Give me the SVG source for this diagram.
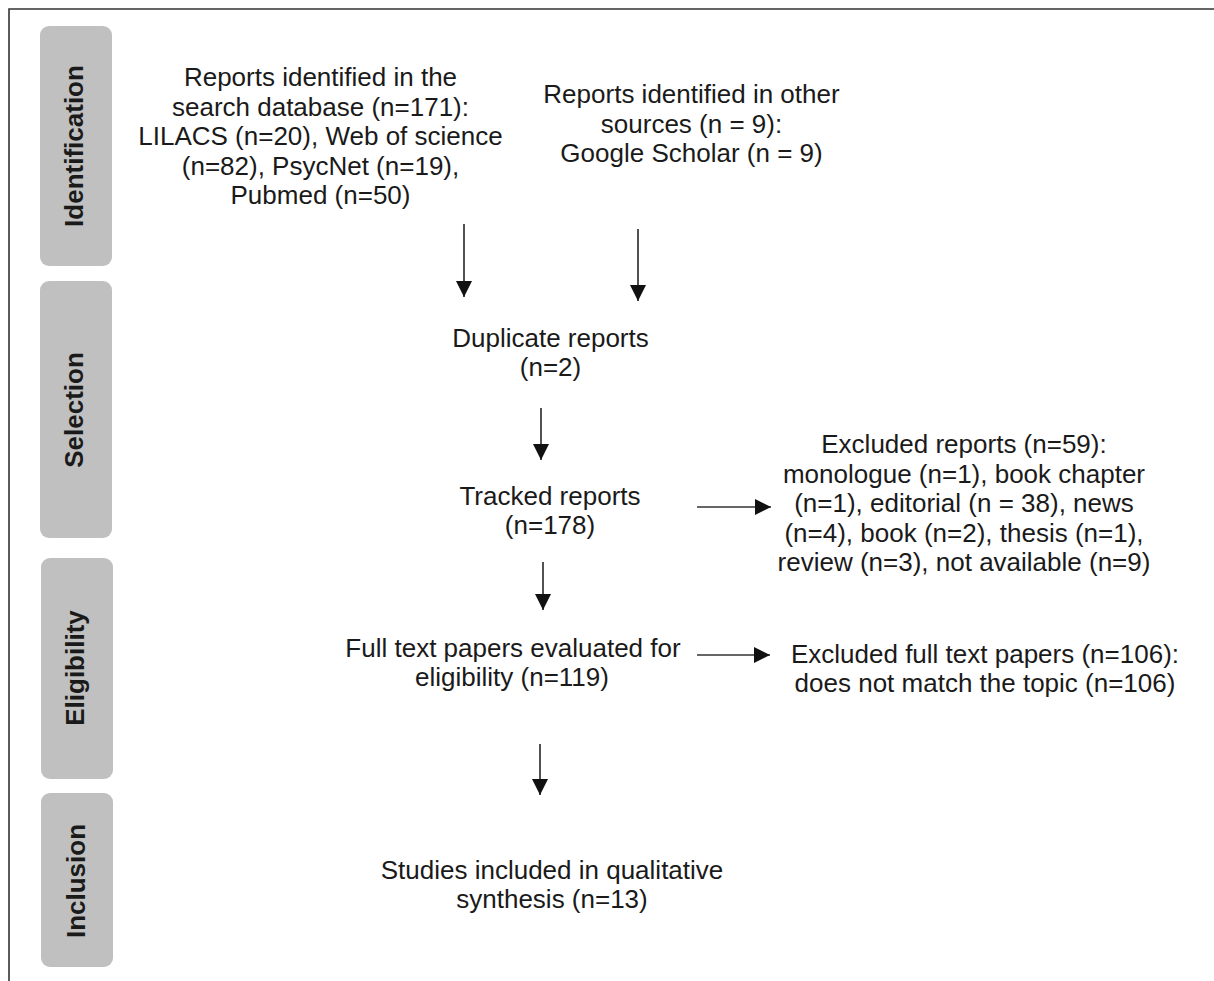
<svg xmlns="http://www.w3.org/2000/svg" width="1214" height="981" viewBox="0 0 1214 981">
<defs>
<style>
.t{font-family:"Liberation Sans",Arial,sans-serif;font-size:26px;fill:#1a1a1a;text-anchor:middle}
.lab{font-family:"Liberation Sans",Arial,sans-serif;font-size:26px;font-weight:bold;fill:#1a1a1a;text-anchor:middle}
.band{fill:#c0c0c0}
.c{stroke:#333;stroke-width:1.7;fill:none;marker-end:url(#ah)}
</style>
<marker id="ah" markerUnits="userSpaceOnUse" markerWidth="17" markerHeight="17" refX="16" refY="8" orient="auto">
<path d="M0,0 L16,8 L0,16 z" fill="#111"/>
</marker>
</defs>
<rect width="1214" height="981" fill="#fff"/>
<path d="M9,981 V9 H1214" stroke="#333" stroke-width="1.6" fill="none"/>

<g id="stage-identification"><rect class="band" x="40" y="26" width="72" height="240" rx="9"/><text class="lab" transform="translate(83,146) rotate(-90)">Identification</text></g>
<g id="stage-selection"><rect class="band" x="40" y="281" width="72" height="257" rx="9"/><text class="lab" transform="translate(83,410) rotate(-90)">Selection</text></g>
<g id="stage-eligibility"><rect class="band" x="41" y="558" width="72" height="221" rx="9"/><text class="lab" transform="translate(84,668) rotate(-90)">Eligibility</text></g>
<g id="stage-inclusion"><rect class="band" x="41" y="793" width="72" height="174" rx="9"/><text class="lab" transform="translate(85,881) rotate(-90)">Inclusion</text></g>

<g id="node-database"><text class="t" x="320.5" y="86">Reports identified in the</text><text class="t" x="320.5" y="115.5">search database (n=171):</text><text class="t" x="320.5" y="145">LILACS (n=20), Web of science</text><text class="t" x="320.5" y="174.5">(n=82), PsycNet (n=19),</text><text class="t" x="320.5" y="204">Pubmed (n=50)</text></g>
<g id="node-other"><text class="t" x="691.5" y="103">Reports identified in other</text><text class="t" x="691.5" y="132.5">sources (n = 9):</text><text class="t" x="691.5" y="162">Google Scholar (n = 9)</text></g>
<g id="node-duplicate"><text class="t" x="550.5" y="347">Duplicate reports</text><text class="t" x="550.5" y="376">(n=2)</text></g>
<g id="node-tracked"><text class="t" x="550" y="505">Tracked reports</text><text class="t" x="550" y="534">(n=178)</text></g>
<g id="node-excluded"><text class="t" x="964" y="453">Excluded reports (n=59):</text><text class="t" x="964" y="482.5">monologue (n=1), book chapter</text><text class="t" x="964" y="512">(n=1), editorial (n = 38), news</text><text class="t" x="964" y="541.5">(n=4), book (n=2), thesis (n=1),</text><text class="t" x="964" y="571">review (n=3), not available (n=9)</text></g>
<g id="node-fulltext"><text class="t" x="513" y="657">Full text papers evaluated for</text><text class="t" x="512" y="686">eligibility (n=119)</text></g>
<g id="node-excluded-full"><text class="t" x="985" y="663">Excluded full text papers (n=106):</text><text class="t" x="985" y="692">does not match the topic (n=106)</text></g>
<g id="node-included"><text class="t" x="552" y="879">Studies included in qualitative</text><text class="t" x="552" y="908">synthesis (n=13)</text></g>

<g id="connectors">
<line class="c" x1="464" y1="224" x2="464" y2="297"/>
<line class="c" x1="638" y1="229" x2="638" y2="301"/>
<line class="c" x1="541" y1="408" x2="541" y2="460"/>
<line class="c" x1="543" y1="562" x2="543" y2="610"/>
<line class="c" x1="540" y1="744" x2="540" y2="795"/>
<line class="c" x1="697" y1="507" x2="771" y2="507"/>
<line class="c" x1="697" y1="655" x2="770" y2="655"/>
</g>
</svg>
